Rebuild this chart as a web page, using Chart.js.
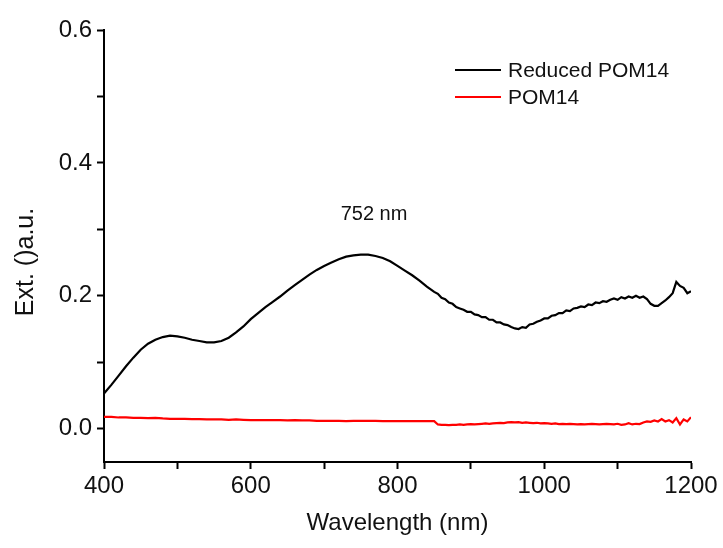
<!DOCTYPE html>
<html>
<head>
<meta charset="utf-8">
<script src="https://cdn.jsdelivr.net/npm/chart.js@4/dist/chart.umd.min.js"></script>
<style>
  html, body { margin: 0; padding: 0; background: #fff; }
</style>
</head>
<body>
<canvas id="myChart" width="723" height="548"></canvas>
<script>
// wavelengths (nm) - 10 nm steps on the smooth part, 5 nm where the trace gets noisy
const wavelengths = [
    400, 410, 420, 430, 440, 450, 460, 470, 480, 490,
    500, 510, 520, 530, 540, 550, 560, 570, 580, 590,
    600, 610, 620, 630, 640, 650, 660, 670, 680, 690,
    700, 710, 720, 730, 740, 750, 760, 770, 780, 790,
    800, 810, 820, 830, 840, 850,
    855, 860, 865, 870, 875, 880, 885, 890, 895, 900,
    905, 910, 915, 920, 925, 930, 935, 940, 945, 950,
    955, 960, 965, 970, 975, 980, 985, 990, 995, 1000,
    1005, 1010, 1015, 1020, 1025, 1030, 1035, 1040, 1045, 1050,
    1055, 1060, 1065, 1070, 1075, 1080, 1085, 1090, 1095, 1100,
    1105, 1110, 1115, 1120, 1125, 1130, 1135, 1140, 1145, 1150,
    1155, 1160, 1165, 1170, 1175, 1180, 1185, 1190, 1195, 1200
];

const reducedPOM14 = [
    0.053, 0.066, 0.080, 0.094, 0.107, 0.119, 0.128, 0.134, 0.138, 0.140,
    0.139, 0.137, 0.134, 0.132, 0.130, 0.130, 0.132, 0.137, 0.145, 0.154,
    0.165, 0.174, 0.183, 0.191, 0.199, 0.208, 0.216, 0.224, 0.232, 0.239,
    0.245, 0.250, 0.255, 0.259, 0.261, 0.262, 0.262, 0.260, 0.257, 0.252,
    0.245, 0.238, 0.231, 0.223, 0.214, 0.206,
    0.203, 0.197, 0.195, 0.190, 0.188, 0.183, 0.181, 0.179, 0.176, 0.176,
    0.172, 0.171, 0.168, 0.168, 0.164, 0.164, 0.160, 0.160, 0.157, 0.156,
    0.153, 0.151, 0.150, 0.153, 0.152, 0.157, 0.158, 0.161, 0.163, 0.166,
    0.166, 0.170, 0.171, 0.174, 0.174, 0.178, 0.177, 0.181, 0.182, 0.184,
    0.183, 0.187, 0.186, 0.190, 0.189, 0.192, 0.191, 0.194, 0.196, 0.194,
    0.198, 0.196, 0.199, 0.197, 0.200, 0.197, 0.199, 0.195, 0.188, 0.185,
    0.185, 0.189, 0.193, 0.198, 0.204, 0.221, 0.215, 0.212, 0.204, 0.207
];

const pom14 = [
    0.018, 0.018, 0.017, 0.017, 0.0165, 0.0165, 0.016, 0.0165, 0.0155, 0.015,
    0.015, 0.015, 0.0145, 0.0145, 0.014, 0.014, 0.014, 0.0135, 0.014, 0.0135,
    0.013, 0.013, 0.013, 0.013, 0.013, 0.0125, 0.013, 0.0125, 0.0125, 0.012,
    0.012, 0.012, 0.012, 0.0115, 0.012, 0.012, 0.012, 0.012, 0.0115, 0.0115,
    0.0115, 0.0115, 0.0115, 0.0115, 0.0115, 0.0115,
    0.0065, 0.006, 0.006, 0.0055, 0.006, 0.006, 0.0065, 0.006, 0.0065, 0.007,
    0.0065, 0.007, 0.0075, 0.008, 0.0075, 0.008, 0.0085, 0.009, 0.0085, 0.0095,
    0.010, 0.0095, 0.010, 0.009, 0.0095, 0.009, 0.0085, 0.009, 0.008, 0.0085,
    0.008, 0.0075, 0.008, 0.007, 0.0075, 0.007, 0.0075, 0.007, 0.0065, 0.007,
    0.0065, 0.007, 0.0075, 0.007, 0.0065, 0.007, 0.0075, 0.007, 0.0065, 0.0075,
    0.006, 0.0065, 0.0085, 0.0065, 0.0075, 0.007, 0.0095, 0.011, 0.0105, 0.0125,
    0.011, 0.0145, 0.011, 0.013, 0.0095, 0.016, 0.0065, 0.014, 0.011, 0.0175
];

const xLabels = [400, 600, 800, 1000, 1200];
const yLabels = [0.0, 0.2, 0.4, 0.6];

const FONT = "'Liberation Sans', Arial, Helvetica, sans-serif";

function points(ys) {
    return wavelengths.map((w, i) => ({ x: w, y: ys[i] }));
}

// legend, peak label and y title drawn on the canvas
const extras = {
    id: 'extras',
    afterDraw(chart) {
        const ctx = chart.ctx;
        const xs = chart.scales.x, ys = chart.scales.y;
        ctx.save();
        ctx.font = '20px ' + FONT;
        ctx.fillStyle = '#111';
        ctx.textAlign = 'center';
        ctx.textBaseline = 'middle';
        ctx.fillText('752 nm', xs.getPixelForValue(768), ys.getPixelForValue(0.323));

        // y axis title sits a bit below the middle of the axis in the original
        ctx.save();
        ctx.translate(26, 262);
        ctx.rotate(-Math.PI / 2);
        ctx.font = '25px ' + FONT;
        ctx.fillText('Ext. ()a.u.', 0, 0);
        ctx.restore();

        ctx.textAlign = 'left';
        ctx.font = '21px ' + FONT;
        chart.data.datasets.forEach((ds, i) => {
            const y = 70 + i * 27;
            ctx.strokeStyle = ds.borderColor;
            ctx.lineWidth = 2;
            ctx.beginPath();
            ctx.moveTo(455, y);
            ctx.lineTo(501, y);
            ctx.stroke();
            ctx.fillText(ds.label, 508, y + 1);
        });
        ctx.restore();
    }
};

var ctx = document.getElementById('myChart').getContext('2d');
var myChart = new Chart(ctx, {
    type: 'line',
    data: {
        datasets: [{
            label: 'Reduced POM14',
            data: points(reducedPOM14),
            borderColor: '#000000',
            borderWidth: 2.2,
            pointRadius: 0,
            tension: 0
        }, {
            label: 'POM14',
            data: points(pom14),
            borderColor: '#ff0000',
            borderWidth: 2.2,
            pointRadius: 0,
            tension: 0
        }]
    },
    options: {
        responsive: false,
        animation: false,
        layout: { padding: { left: 0, top: 30, right: 32, bottom: 0 } },
        plugins: {
            legend: { display: false },
            tooltip: { enabled: false }
        },
        scales: {
            x: {
                type: 'linear',
                min: 400,
                max: 1200,
                afterFit(scale) { scale.height = 86; },
                ticks: {
                    stepSize: 100,
                    padding: 3,
                    color: '#111',
                    font: { family: FONT, size: 24 },
                    maxRotation: 0,
                    autoSkip: false,
                    callback: v => xLabels.includes(v) ? String(v) : ''
                },
                grid: {
                    drawOnChartArea: false,
                    drawTicks: true,
                    tickLength: 7,
                    tickWidth: 2,
                    tickColor: '#000'
                },
                border: { display: true, color: '#000', width: 2 },
                title: {
                    display: true,
                    text: 'Wavelength (nm)',
                    color: '#111',
                    font: { family: FONT, size: 24 },
                    padding: { top: 0, bottom: 10 }
                }
            },
            y: {
                min: -0.05,
                max: 0.6,
                afterFit(scale) { scale.width = 104; },
                afterBuildTicks(scale) {
                    scale.ticks = scale.ticks.filter(t => t.value > -0.001);
                },
                ticks: {
                    stepSize: 0.1,
                    padding: 5,
                    color: '#111',
                    font: { family: FONT, size: 24 },
                    autoSkip: false,
                    callback: v => yLabels.some(l => Math.abs(l - v) < 1e-6) ? v.toFixed(1) : ''
                },
                grid: {
                    drawOnChartArea: false,
                    drawTicks: true,
                    tickLength: 7,
                    tickWidth: 2,
                    tickColor: '#000'
                },
                border: { display: true, color: '#000', width: 2 }
            }
        }
    },
    plugins: [extras]
});
</script>
</body>
</html>
